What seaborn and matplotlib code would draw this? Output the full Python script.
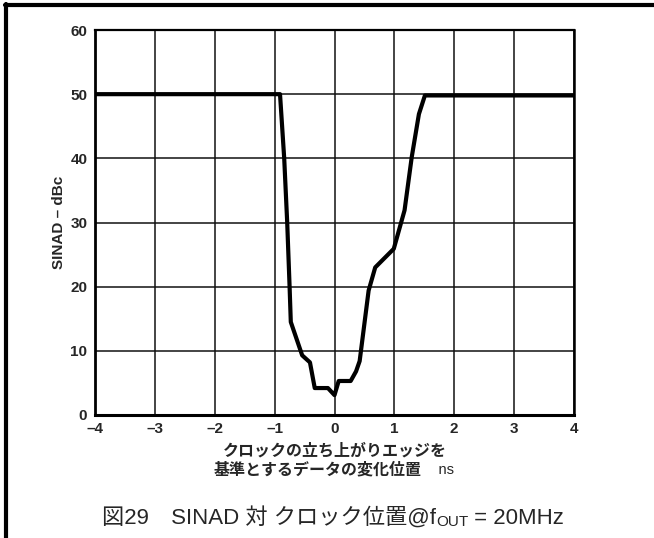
import matplotlib
matplotlib.use("Agg")
import matplotlib.pyplot as plt
import seaborn as sns
import pandas as pd

# Data-transition position relative to the clock rising edge (ns) vs SINAD (dBc)
x_ns = [-4.0, -0.91, -0.84, -0.79, -0.75, -0.73, -0.54, -0.41, -0.33, -0.11,
        0.0, 0.07, 0.27, 0.36, 0.42, 0.57, 0.68, 0.99, 1.17, 1.29, 1.41, 1.51, 4.0]
sinad_dbc = [50.0, 50.0, 40.0, 30.0, 20.0, 14.5, 9.3, 8.2, 4.2, 4.2,
             3.1, 5.3, 5.3, 6.8, 8.4, 19.4, 23.0, 25.9, 31.9, 40.2, 46.9, 49.8, 49.8]

x_ticks = [-4, -3, -2, -1, 0, 1, 2, 3, 4]
x_tick_labels = ["–4", "–3", "–2", "–1", "0", "1", "2", "3", "4"]
y_ticks = [0, 10, 20, 30, 40, 50, 60]
y_tick_labels = ["0", "10", "20", "30", "40", "50", "60"]

y_label = "SINAD – dBc"
x_label_line1 = "クロックの立ち上がりエッジを"
x_label_line2 = "基準とするデータの変化位置"
x_label_unit = "ns"
caption_parts = ["図29　SINAD 対 クロック位置@f", "OUT", " = 20MHz"]

sns.set_style("white")
FAMILY = ["Liberation Sans", "Noto Sans CJK JP", "DejaVu Sans"]
plt.rcParams["font.family"] = FAMILY

W, H = 654, 538
fig = plt.figure(figsize=(W / 100, H / 100), dpi=100)
ax = fig.add_axes([95 / W, 1 - 415 / H, (574 - 95) / W, (415 - 30) / H])

df = pd.DataFrame({"x": x_ns, "sinad": sinad_dbc})
sns.lineplot(data=df, x="x", y="sinad", sort=False, estimator=None,
             color="black", linewidth=3.0, ax=ax, zorder=3)

ax.set_xlim(-4, 4)
ax.set_ylim(0, 60)
ax.set_xticks(x_ticks)
ax.set_xticklabels(x_tick_labels)
ax.set_yticks(y_ticks)
ax.set_yticklabels(y_tick_labels)
ax.tick_params(length=0, labelsize=11)
ax.tick_params(axis="x", pad=5)
ax.tick_params(axis="y", pad=5.5)
for lab in ax.get_xticklabels() + ax.get_yticklabels():
    lab.set_fontweight("bold")
ax.grid(True, color="#111111", linewidth=1.1)
ax.set_axisbelow(True)
for side, lw in [("left", 2.0), ("bottom", 2.2), ("top", 1.6), ("right", 1.8)]:
    ax.spines[side].set_visible(True)
    ax.spines[side].set_color("black")
    ax.spines[side].set_linewidth(lw)
ax.set_xlabel("")
ax.set_ylabel(y_label, fontsize=11, fontweight="bold", labelpad=3)

# Outer frame: top and left rules
fig.add_artist(plt.Line2D([5 / W, 1], [1 - 5 / H, 1 - 5 / H], color="black",
                          linewidth=3, transform=fig.transFigure))
fig.add_artist(plt.Line2D([6 / W, 6 / W], [0, 1 - 4 / H], color="black",
                          linewidth=3, transform=fig.transFigure))

renderer = fig.canvas.get_renderer()


def text_run(cx_px, base_px, pieces):
    """Draw text pieces side by side, centred on cx_px, sharing a baseline.

    Positions are in pixels measured from the top-left corner; dy moves a
    piece down by that many pixels."""
    made = []
    for s, size, weight, dy in pieces:
        t = fig.text(0, 0, s, fontsize=size, fontweight=weight, family=FAMILY,
                     va="baseline", ha="left", transform=None)
        made.append((t, dy))
    widths = [t.get_window_extent(renderer).width for t, _ in made]
    x = cx_px - sum(widths) / 2
    for (t, dy), w in zip(made, widths):
        t.set_position((x, H - base_px - dy))
        x += w


text_run(335, 456, [(x_label_line1, 11.5, "bold", 0)])
text_run(334, 474, [(x_label_line2, 11.5, "bold", 0),
                    ("    " + x_label_unit, 10.5, "normal", 0)])
text_run(333, 524, [(caption_parts[0], 16, "normal", 0),
                    (caption_parts[1], 11, "normal", 2),
                    (caption_parts[2], 16, "normal", 0)])

fig.savefig("out.png", dpi=100)
